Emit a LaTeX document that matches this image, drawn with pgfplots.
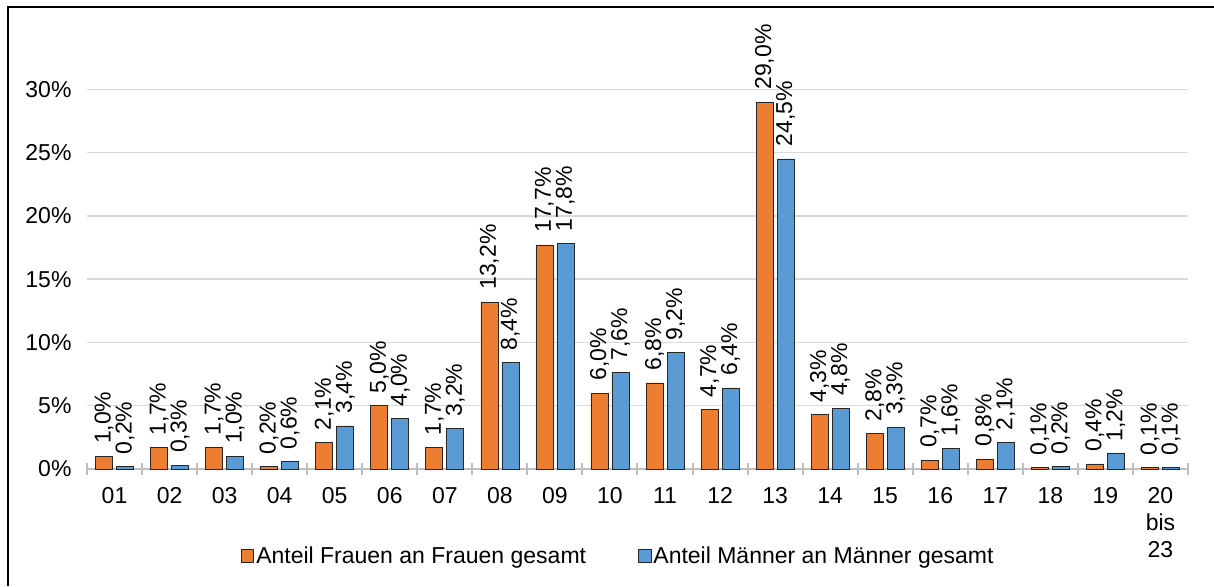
\documentclass[border=0pt]{standalone}
\usepackage{pgfplots}
\pgfplotsset{compat=1.18}
\usepackage{fontspec}
\setmainfont{Liberation Sans}
\definecolor{cOr}{HTML}{ED7D31}
\definecolor{cBl}{HTML}{5B9BD5}
\definecolor{cGrid}{HTML}{D9D9D9}
\definecolor{cAx}{HTML}{BFBFBF}
\begin{document}
\begin{tikzpicture}
\begin{axis}[
  name=main,
  width=1101pt, height=443pt, scale only axis,
  font=\fontsize{22}{26}\selectfont,
  /pgf/number format/assume math mode=true,
  ybar, bar width=17pt,
  xmin=0.5, xmax=20.5, ymin=0, ymax=35,
  ytick={0,5,...,30},
  yticklabel={\pgfmathprintnumber{\tick}\%},
  yticklabel style={font=\fontsize{23}{27}\selectfont},
  ymajorgrids, grid style={cGrid, line width=1.5pt},
  axis x line*=bottom, axis y line*=left,
  y axis line style={draw=none},
  x axis line style={cAx, line width=2pt, -},
  xtick={1,...,20},
  xticklabels={01,02,03,04,05,06,07,08,09,10,11,12,13,14,15,16,17,18,19,{20\\bis\\23}},
  xticklabel style={align=center, yshift=-13pt, font=\fontsize{23}{27}\selectfont},
  major x tick style={draw=none},
  minor xtick={0.5,1.5,...,20.5},
  minor x tick style={cAx, line width=2pt},
  minor tick length=12pt,
  xtick align=center,
  y tick style={draw=none},
  yticklabel style={xshift=-12pt},
  nodes near coords={\pgfmathprintnumber[fixed,fixed zerofill,precision=1,use comma]{\pgfplotspointmeta}\%},
  every node near coord/.append style={rotate=90, anchor=west, inner xsep=12pt, font=\fontsize{23}{27}\selectfont, black},
  legend columns=2,
  legend style={draw=none, fill=none, at={(0.4825,-0.197)}, anchor=center,
    font=\fontsize{23}{27}\selectfont,
    /tikz/every even column/.append style={column sep=50pt},
    nodes={inner sep=2pt}},
  legend image code/.code={\draw[#1,draw=black!85,line width=0.8pt] (0pt,-6pt) rectangle (12.5pt,6.5pt);},
  clip=false,
]
\addplot[fill=cOr, draw=black!85, line width=0.7pt, bar shift=-10.5pt] coordinates {
(1,1.0) (2,1.7) (3,1.7) (4,0.2) (5,2.1) (6,5.0) (7,1.7) (8,13.2) (9,17.7) (10,6.0)
(11,6.8) (12,4.7) (13,29.0) (14,4.3) (15,2.8) (16,0.7) (17,0.8) (18,0.1) (19,0.4) (20,0.1)};
\addplot[fill=cBl, draw=black!85, line width=0.7pt, bar shift=10.5pt] coordinates {
(1,0.2) (2,0.3) (3,1.0) (4,0.6) (5,3.4) (6,4.0) (7,3.2) (8,8.4) (9,17.8) (10,7.6)
(11,9.2) (12,6.4) (13,24.5) (14,4.8) (15,3.3) (16,1.6) (17,2.1) (18,0.2) (19,1.2) (20,0.1)};
\legend{Anteil Frauen an Frauen gesamt, Anteil Männer an Männer gesamt}
\coordinate (O) at (rel axis cs:0,0);
\end{axis}
\begin{scope}[shift={(O)}]
\path[use as bounding box] (-87pt,-117pt) rectangle (1127pt,469pt);
\draw[line width=1.5pt,black] (-79pt,-117pt) -- (-79pt,462pt) -- (1127pt,462pt);
\end{scope}
\end{tikzpicture}
\end{document}
